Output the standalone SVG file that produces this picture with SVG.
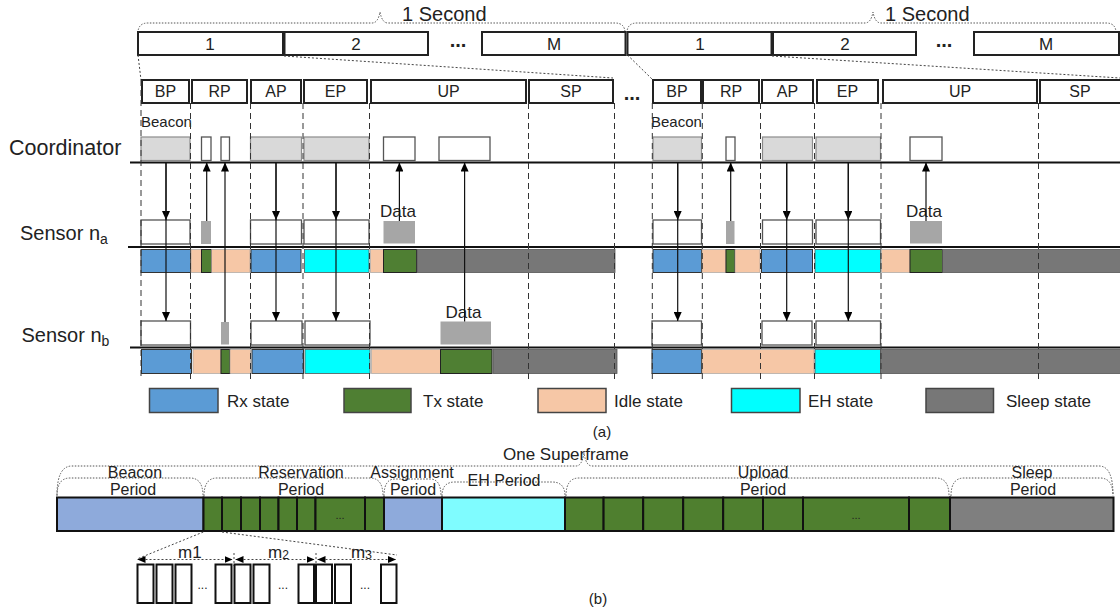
<svg xmlns="http://www.w3.org/2000/svg" width="1120" height="612" viewBox="0 0 1120 612">
<defs>
<style>
text{font-family:"Liberation Sans",Arial,sans-serif;fill:#222}
.fr{fill:#fff;stroke:#222;stroke-width:2}
.dash{stroke:#333;stroke-width:1;stroke-dasharray:6 4;fill:none}
.dot{stroke:#444;stroke-width:1;stroke-dasharray:2 2;fill:none}
.brace{stroke:#555;stroke-width:1;stroke-dasharray:1.5 1.5;fill:none}
.cg{fill:#d9d9d9;stroke:#8c8c8c;stroke-width:1.2}
.cw{fill:#fff;stroke:#555;stroke-width:1.3}
.sw{fill:#fff;stroke:#555;stroke-width:1.3}
.sg{fill:#a6a6a6}
.tl{stroke:#111;stroke-width:2}
.rx{fill:#5b9bd5;stroke:#333;stroke-width:1}
.tx{fill:#4f7f33;stroke:#222;stroke-width:1}
.id{fill:#f6c7a6;stroke:#999;stroke-width:0.6}
.eh{fill:#00ffff;stroke:#555;stroke-width:0.8}
.sl{fill:#777;stroke:#555;stroke-width:0.8}
.arr{stroke:#111;stroke-width:1.2;fill:none;marker-end:url(#ah)}
.lg{stroke:#444;stroke-width:1.5}
.bb{stroke:#111;stroke-width:2}
.slot{fill:#fff;stroke:#111;stroke-width:2}
.lbl{font-size:16px}
.pl{font-size:16px}
.dim{stroke:#444;stroke-width:1;stroke-dasharray:2 2;fill:none;marker-start:url(#sh);marker-end:url(#sh)}
</style>
<marker id="ah" viewBox="0 0 9 8" refX="9" refY="4" markerWidth="9" markerHeight="8" markerUnits="userSpaceOnUse" orient="auto"><path d="M0,0 L9,4 L0,8 z" fill="#000"/></marker>
<marker id="sh" viewBox="0 0 8 7" refX="8" refY="3.5" markerWidth="8" markerHeight="7" markerUnits="userSpaceOnUse" orient="auto-start-reverse"><path d="M0,0 L8,3.5 L0,7 z" fill="#000"/></marker>
</defs>
<rect width="1120" height="612" fill="#fff"/>

<!-- Top: seconds / superframes -->
<g id="second-1">
<path class="brace" d="M138,33 Q138,23 148,23 L372,23 Q378,23 380,12 Q382,23 388,23 L615,23 Q625,23 625,33"/>
<text x="402" y="21" font-size="20">1 Second</text>
<rect class="fr" x="138" y="32" width="145" height="23"/>
<text x="210" y="50" font-size="17" text-anchor="middle">1</text>
<rect class="fr" x="284.5" y="32" width="143.5" height="23"/>
<text x="356" y="50" font-size="17" text-anchor="middle">2</text>
<text x="458" y="47" font-size="20" font-weight="bold" text-anchor="middle">...</text>
<rect class="fr" x="482" y="32" width="143.5" height="23"/>
<text x="554" y="50" font-size="17" text-anchor="middle">M</text>
</g>
<g id="second-2">
<path class="brace" d="M627,33 Q627,23 637,23 L865,23 Q871,23 873,12 Q875,23 881,23 L1106,23 Q1116,23 1116,33"/>
<text x="885" y="21" font-size="20">1 Second</text>
<rect class="fr" x="627.5" y="32" width="144" height="23"/>
<text x="700" y="50" font-size="17" text-anchor="middle">1</text>
<rect class="fr" x="773" y="32" width="143" height="23"/>
<text x="845" y="50" font-size="17" text-anchor="middle">2</text>
<text x="944" y="47" font-size="20" font-weight="bold" text-anchor="middle">...</text>
<rect class="fr" x="974" y="32" width="145" height="23"/>
<text x="1046" y="50" font-size="17" text-anchor="middle">M</text>
</g>

<!-- zoom lines -->
<g id="zoom-lines">
<path class="dot" d="M138,55 L141,80"/>
<path class="dot" d="M284,56 L613,78"/>
<path class="dot" d="M627.5,55 L653,80"/>
<path class="dot" d="M772,56 L1120,78"/>
</g>

<g id="superframe-1">
<rect class="fr" x="142" y="80" width="47" height="23"/><text class="lbl" x="165.5" y="97" text-anchor="middle">BP</text>
<rect class="fr" x="192" y="80" width="55" height="23"/><text class="lbl" x="219.5" y="97" text-anchor="middle">RP</text>
<rect class="fr" x="251" y="80" width="50" height="23"/><text class="lbl" x="276" y="97" text-anchor="middle">AP</text>
<rect class="fr" x="304" y="80" width="63" height="23"/><text class="lbl" x="335.5" y="97" text-anchor="middle">EP</text>
<rect class="fr" x="371" y="80" width="155" height="23"/><text class="lbl" x="448.5" y="97" text-anchor="middle">UP</text>
<rect class="fr" x="529" y="80" width="84" height="23"/><text class="lbl" x="571" y="97" text-anchor="middle">SP</text>
</g>
<text x="632" y="100" font-size="20" font-weight="bold" text-anchor="middle">...</text>
<g id="superframe-2">
<rect class="fr" x="653" y="80" width="48" height="23"/><text class="lbl" x="677" y="97" text-anchor="middle">BP</text>
<rect class="fr" x="703" y="80" width="56" height="23"/><text class="lbl" x="731" y="97" text-anchor="middle">RP</text>
<rect class="fr" x="762" y="80" width="51" height="23"/><text class="lbl" x="787.5" y="97" text-anchor="middle">AP</text>
<rect class="fr" x="817" y="80" width="61" height="23"/><text class="lbl" x="847.5" y="97" text-anchor="middle">EP</text>
<rect class="fr" x="883" y="80" width="154" height="23"/><text class="lbl" x="960" y="97" text-anchor="middle">UP</text>
<rect class="fr" x="1040" y="80" width="90" height="23"/><text class="lbl" x="1080" y="97" text-anchor="middle">SP</text>
</g>

<!-- Coordinator -->
<g id="coordinator">
<text x="9" y="155" font-size="21.5">Coordinator</text>
<line class="tl" x1="130" y1="162.5" x2="1120" y2="162.5"/>
<text x="141" y="127" font-size="15">Beacon</text>
<text x="651" y="127" font-size="15">Beacon</text>
<rect class="cg" x="141" y="137" width="49" height="23.5"/>
<rect class="cw" x="201.5" y="137" width="9.5" height="23.5"/>
<rect class="cw" x="221" y="137" width="8.5" height="23.5"/>
<rect class="cg" x="250.5" y="137" width="51" height="23.5"/>
<rect class="cg" x="304" y="137" width="65" height="23.5"/>
<rect class="cw" x="383.5" y="137" width="31.5" height="23.5"/>
<rect class="cw" x="439" y="137" width="51" height="23.5"/>
<rect class="cg" x="653" y="137" width="48.5" height="23.5"/>
<rect class="cw" x="726" y="137" width="9" height="23.5"/>
<rect class="cg" x="762.5" y="137" width="50" height="23.5"/>
<rect class="cg" x="816" y="137" width="64.5" height="23.5"/>
<rect class="cw" x="910" y="137" width="32" height="23.5"/>
</g>

<!-- Sensor n_a -->
<g id="sensor-a">
<text x="20" y="240" font-size="20">Sensor n<tspan font-size="14" dy="4">a</tspan></text>
<rect class="sw" x="141" y="220" width="49" height="24"/>
<rect class="sg" x="201" y="221" width="10" height="23"/>
<rect class="sw" x="250.5" y="220" width="51" height="24"/>
<rect class="sw" x="304" y="220" width="65" height="24"/>
<rect class="sg" x="383.5" y="221" width="31.5" height="22.5"/>
<text x="380" y="217" font-size="17">Data</text>
<rect class="sw" x="653" y="220" width="48.5" height="24"/>
<rect class="sg" x="726" y="221" width="8.5" height="23"/>
<rect class="sw" x="762.5" y="220" width="50" height="24"/>
<rect class="sw" x="816" y="220" width="64.5" height="24"/>
<rect class="sg" x="910" y="221" width="32" height="22.5"/>
<text x="906" y="217" font-size="17">Data</text>
<line class="tl" x1="128" y1="247" x2="1120" y2="247"/>
<rect class="rx" x="141" y="249.5" width="49.5" height="23"/>
<rect class="id" x="191" y="249.5" width="10.5" height="23"/>
<rect class="tx" x="201.5" y="249.5" width="10" height="23"/>
<rect class="id" x="211.5" y="249.5" width="38.5" height="23"/>
<rect class="rx" x="251" y="249.5" width="50" height="23"/>
<rect class="eh" x="304.5" y="249.5" width="64.5" height="23"/>
<rect class="id" x="370.5" y="249.5" width="13" height="23"/>
<rect class="tx" x="383.5" y="249.5" width="33" height="23"/>
<rect class="sl" x="417" y="249.5" width="198" height="23"/>
<rect class="rx" x="653" y="249.5" width="48.5" height="23"/>
<rect class="id" x="702" y="249.5" width="24" height="23"/>
<rect class="tx" x="726" y="249.5" width="9" height="23"/>
<rect class="id" x="735" y="249.5" width="25" height="23"/>
<rect class="rx" x="761.5" y="249.5" width="51" height="23"/>
<rect class="eh" x="815" y="249.5" width="65.5" height="23"/>
<rect class="id" x="881.5" y="249.5" width="28.5" height="23"/>
<rect class="tx" x="910" y="249.5" width="32.5" height="23"/>
<rect class="sl" x="942.5" y="249.5" width="180" height="23"/>
</g>

<!-- Sensor n_b -->
<g id="sensor-b">
<text x="21.5" y="341.5" font-size="20">Sensor n<tspan font-size="14" dy="4">b</tspan></text>
<rect class="sw" x="141" y="321" width="49.5" height="24"/>
<rect class="sg" x="221" y="322" width="8" height="22.5"/>
<rect class="sw" x="251" y="321" width="51" height="24"/>
<rect class="sw" x="305" y="321" width="65" height="24"/>
<rect class="sg" x="440.5" y="321.5" width="50.5" height="23"/>
<text x="463.5" y="318" font-size="17" text-anchor="middle">Data</text>
<rect class="sw" x="652" y="321" width="49.5" height="24"/>
<rect class="sw" x="762" y="321" width="50" height="24"/>
<rect class="sw" x="816" y="321" width="64.5" height="24"/>
<line class="tl" x1="130" y1="347.5" x2="1120" y2="347.5"/>
<rect class="rx" x="141.5" y="349.5" width="50" height="24"/>
<rect class="id" x="193" y="349.5" width="28" height="24"/>
<rect class="tx" x="221" y="349.5" width="9" height="24"/>
<rect class="id" x="230" y="349.5" width="20.5" height="24"/>
<rect class="rx" x="252" y="349.5" width="51.5" height="24"/>
<rect class="eh" x="305" y="349.5" width="65" height="24"/>
<rect class="id" x="371.5" y="349.5" width="69" height="24"/>
<rect class="tx" x="440.5" y="349.5" width="51.5" height="24"/>
<rect class="sl" x="493" y="349.5" width="124" height="24"/>
<rect class="rx" x="652" y="349.5" width="49.5" height="24"/>
<rect class="id" x="702" y="349.5" width="112" height="24"/>
<rect class="eh" x="815" y="349.5" width="65.5" height="24"/>
<rect class="sl" x="880.5" y="349.5" width="242" height="24"/>
</g>

<!-- dashed period boundaries -->
<g id="boundaries">
<path class="dash" d="M141,80 V380 M190.5,103 V380 M250.5,103 V380 M303,103 V380 M369.5,103 V380 M528.5,103 V380 M614.5,103 V380"/>
<path class="dash" d="M652.3,103 V380 M702.3,103 V380 M760.5,103 V380 M814.5,103 V380 M881,103 V380 M1038.5,103 V380"/>
</g>

<!-- connectors -->
<g id="connectors">
<path class="arr" d="M166,162.5 V220"/>
<path class="arr" d="M166,162.5 V321"/>
<path class="arr" d="M206.7,221 V162.5"/>
<path class="arr" d="M225,322 V162.5"/>
<path class="arr" d="M276,162.5 V220"/>
<path class="arr" d="M276,162.5 V321"/>
<path class="arr" d="M336,162.5 V220"/>
<path class="arr" d="M336,162.5 V321"/>
<path class="arr" d="M399.4,221 V162.5"/>
<path class="arr" d="M464.6,321.5 V162.5"/>
<path class="arr" d="M677.7,162.5 V220"/>
<path class="arr" d="M677.7,162.5 V321"/>
<path class="arr" d="M730.7,221 V162.5"/>
<path class="arr" d="M786.7,162.5 V220"/>
<path class="arr" d="M786.7,162.5 V321"/>
<path class="arr" d="M848.3,162.5 V220"/>
<path class="arr" d="M848.3,162.5 V321"/>
<path class="arr" d="M926,221 V162.5"/>
</g>

<!-- legend -->
<g id="legend">
<rect class="rx lg" x="149.5" y="388.5" width="68.5" height="24"/><text x="227" y="407" font-size="17">Rx state</text>
<rect class="tx lg" x="344" y="388.5" width="67" height="24"/><text x="423" y="407" font-size="17">Tx state</text>
<rect class="id lg" x="538" y="388.5" width="68" height="24"/><text x="614" y="407" font-size="17">Idle state</text>
<rect class="eh lg" x="731.5" y="388.5" width="68.5" height="24"/><text x="808" y="407" font-size="17">EH state</text>
<rect class="sl lg" x="926" y="388.5" width="67.5" height="24"/><text x="1006" y="407" font-size="17">Sleep state</text>
</g>
<text x="602" y="437" font-size="15" text-anchor="middle">(a)</text>

<!-- Part (b) -->
<g id="superframe-b">
<path class="brace" d="M57,495 Q57,466 72,466 L576,466 Q582,466 584,453 Q586,466 592,466 L1099,466 Q1113,466 1113,495"/>
<text x="503" y="460" font-size="17">One Superframe</text>
<path class="brace" d="M57,496 Q57,478 70,478 L190,478 Q203,478 203,496"/>
<path class="brace" d="M204,496 Q204,478 217,478 L370,478 Q383,478 383,496"/>
<path class="brace" d="M384,496 Q384,479 395,479 L430,479 Q441,479 441,496"/>
<path class="brace" d="M442,496 Q442,482 455,482 L552,482 Q565,482 565,496"/>
<path class="brace" d="M566,496 Q566,478 579,478 L936,478 Q949,478 949,496"/>
<path class="brace" d="M951,496 Q951,478 964,478 L1100,478 Q1113,478 1113,496"/>
<text class="pl" x="135" y="477.5" text-anchor="middle">Beacon</text>
<text class="pl" x="133" y="495" text-anchor="middle">Period</text>
<text class="pl" x="301" y="477.5" text-anchor="middle">Reservation</text>
<text class="pl" x="301" y="495" text-anchor="middle">Period</text>
<text class="pl" x="412" y="477.5" text-anchor="middle">Assignment</text>
<text class="pl" x="413" y="495" text-anchor="middle">Period</text>
<text class="pl" x="504" y="486" text-anchor="middle">EH Period</text>
<text class="pl" x="763" y="477.5" text-anchor="middle">Upload</text>
<text class="pl" x="763" y="495" text-anchor="middle">Period</text>
<text class="pl" x="1032" y="477.5" text-anchor="middle">Sleep</text>
<text class="pl" x="1033" y="495" text-anchor="middle">Period</text>

<rect class="bb" x="57" y="497.5" width="146.5" height="33.5" fill="#8eaadb"/>
<g fill="#4f7f2f">
<rect class="bb" x="203.5" y="497.5" width="18.5" height="33.5"/>
<rect class="bb" x="222" y="497.5" width="19" height="33.5"/>
<rect class="bb" x="241" y="497.5" width="19" height="33.5"/>
<rect class="bb" x="260" y="497.5" width="18.5" height="33.5"/>
<rect class="bb" x="278.5" y="497.5" width="18.5" height="33.5"/>
<rect class="bb" x="297" y="497.5" width="18.5" height="33.5"/>
<rect class="bb" x="315.5" y="497.5" width="49.5" height="33.5"/>
<rect class="bb" x="365" y="497.5" width="19" height="33.5"/>
</g>
<text x="340" y="519" font-size="11" text-anchor="middle">...</text>
<rect class="bb" x="384" y="497.5" width="58" height="33.5" fill="#8eaadb"/>
<rect class="bb" x="442" y="497.5" width="123" height="33.5" fill="#7ffcff"/>
<g fill="#4f7f2f">
<rect class="bb" x="565" y="497.5" width="38.6" height="33.5"/>
<rect class="bb" x="603.6" y="497.5" width="39.6" height="33.5"/>
<rect class="bb" x="643.2" y="497.5" width="40" height="33.5"/>
<rect class="bb" x="683.2" y="497.5" width="40" height="33.5"/>
<rect class="bb" x="723.2" y="497.5" width="39.8" height="33.5"/>
<rect class="bb" x="763" y="497.5" width="40" height="33.5"/>
<rect class="bb" x="803" y="497.5" width="106" height="33.5"/>
<rect class="bb" x="909" y="497.5" width="41" height="33.5"/>
</g>
<text x="856" y="519" font-size="11" text-anchor="middle">...</text>
<rect class="bb" x="950" y="497.5" width="163.5" height="33.5" fill="#7f7f7f"/>
</g>

<g id="slots">
<path class="dot" d="M203.3,532 L137,559"/>
<path class="dot" d="M222,532 L397,555"/>
<path class="dim" d="M137.5,559.5 H232.5"/>
<path class="dim" d="M235.5,559.5 H314.5"/>
<path class="dim" d="M317.5,559.5 H396"/>
<path class="dot" d="M234,553 V566 M316,553 V566"/>
<text x="178" y="558" font-size="17">m1</text>
<text x="268" y="558" font-size="17">m<tspan font-size="12" dy="1">2</tspan></text>
<text x="351" y="558" font-size="17">m<tspan font-size="12" dy="1">3</tspan></text>
<rect class="slot" x="137.5" y="564.5" width="16" height="38.5"/>
<rect class="slot" x="156.5" y="564.5" width="16" height="38.5"/>
<rect class="slot" x="175.5" y="564.5" width="16" height="38.5"/>
<text x="202.5" y="589" font-size="12" text-anchor="middle">...</text>
<rect class="slot" x="215.5" y="564.5" width="16" height="38.5"/>
<rect class="slot" x="234.5" y="564.5" width="16" height="38.5"/>
<rect class="slot" x="253.5" y="564.5" width="16" height="38.5"/>
<text x="283" y="589" font-size="12" text-anchor="middle">...</text>
<rect class="slot" x="298.5" y="564.5" width="15.5" height="38.5"/>
<rect class="slot" x="316" y="564.5" width="16" height="38.5"/>
<rect class="slot" x="335" y="564.5" width="16" height="38.5"/>
<text x="365" y="589" font-size="12" text-anchor="middle">...</text>
<rect class="slot" x="381" y="564.5" width="15.5" height="38.5"/>
</g>
<text x="598" y="604" font-size="15" text-anchor="middle">(b)</text>
</svg>
